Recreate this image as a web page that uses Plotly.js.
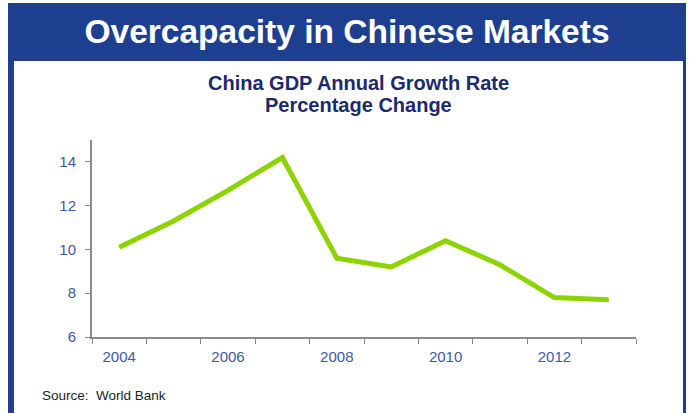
<!DOCTYPE html>
<html>
<head>
<meta charset="utf-8">
<script src="https://cdn.plot.ly/plotly-3.0.1.min.js"></script>
<style>
  html, body { margin: 0; padding: 0; background: #ffffff; }
  #wrap { position: relative; width: 691px; height: 413px; overflow: hidden; background: #ffffff; }
  #frame { position: absolute; left: 8px; top: 3px; width: 669px; height: 420px;
           border-left: 6px solid #1e3f8f; border-right: 3px solid #1e3f8f; border-top: 58px solid #1e3f8f; background: #ffffff; }
  #header { position: absolute; left: 8px; top: 3px; width: 678px; height: 58px; line-height: 58px;
            text-align: center; color: #ffffff; font-family: "Liberation Sans", Arial, sans-serif;
            font-weight: bold; font-size: 33.5px; }
  #chart { position: absolute; left: 0; top: 0; width: 691px; height: 413px; }
</style>
</head>
<body>
<div id="wrap">
  <div id="frame"></div>
  <div id="header">Overcapacity in Chinese Markets</div>
  <div id="chart"></div>
</div>
<script>
const years = [2004, 2005, 2006, 2007, 2008, 2009, 2010, 2011, 2012, 2013];
const growth = [10.1, 11.3, 12.7, 14.2, 9.6, 9.2, 10.4, 9.3, 7.8, 7.7];
const xLabelYears = [2004, 2006, 2008, 2010, 2012];
const xTickPositions = [2003.5, 2004.5, 2005.5, 2006.5, 2007.5, 2008.5, 2009.5, 2010.5, 2011.5, 2012.5, 2013.5];
const yTicks = [6, 8, 10, 12, 14];
const subtitleLines = ['China GDP Annual Growth Rate', 'Percentage Change'];
const sourceText = 'Source:&nbsp;&nbsp;World Bank';

const trace = {
  x: years, y: growth, type: 'scatter', mode: 'lines',
  line: { color: '#8cd400', width: 5 },
  hoverinfo: 'skip'
};

const px2x = p => (p - 92) / 544;
const px2y = p => (337 - p) / 197;

const layout = {
  width: 691, height: 413,
  margin: { l: 92, r: 55, t: 140, b: 76 },
  paper_bgcolor: 'rgba(0,0,0,0)', plot_bgcolor: 'rgba(0,0,0,0)',
  showlegend: false,
  font: { family: '"Liberation Sans", Arial, sans-serif' },
  xaxis: {
    range: [2003.5, 2013.5],
    tickvals: xLabelYears, ticktext: xLabelYears.map(String),
    ticks: 'outside', ticklen: 0, tickcolor: '#888888',
    minor: { tickvals: xTickPositions, ticks: 'outside', ticklen: 5, tickcolor: '#888888', showgrid: false },
    showline: true, linecolor: '#8a8a8a', linewidth: 2,
    showgrid: false, zeroline: false,
    tickfont: { size: 15, color: '#4058a8' },
    ticklabelstandoff: 5
  },
  yaxis: {
    range: [6, 15],
    tickvals: yTicks,
    ticks: 'outside', ticklen: 5, tickcolor: '#888888', tickwidth: 1,
    showline: true, linecolor: '#8a8a8a', linewidth: 2,
    showgrid: false, zeroline: false,
    tickfont: { size: 15, color: '#4058a8' },
    ticklabelstandoff: 6
  },
  annotations: [
    {
      text: '<b>' + subtitleLines[0] + '</b>',
      xref: 'paper', yref: 'paper', x: px2x(358), y: px2y(83),
      xanchor: 'center', yanchor: 'middle', showarrow: false,
      font: { size: 20, color: '#1c2a6b' }
    },
    {
      text: '<b>' + subtitleLines[1] + '</b>',
      xref: 'paper', yref: 'paper', x: px2x(358), y: px2y(105),
      xanchor: 'center', yanchor: 'middle', showarrow: false,
      font: { size: 20, color: '#1c2a6b' }
    },
    {
      text: sourceText,
      xref: 'paper', yref: 'paper',
      x: px2x(40), y: px2y(395),
      xanchor: 'left', yanchor: 'middle', showarrow: false,
      font: { size: 13.5, color: '#222222' }
    }
  ]
};

Plotly.newPlot('chart', [trace], layout, { staticPlot: true, displayModeBar: false });
</script>
</body>
</html>
